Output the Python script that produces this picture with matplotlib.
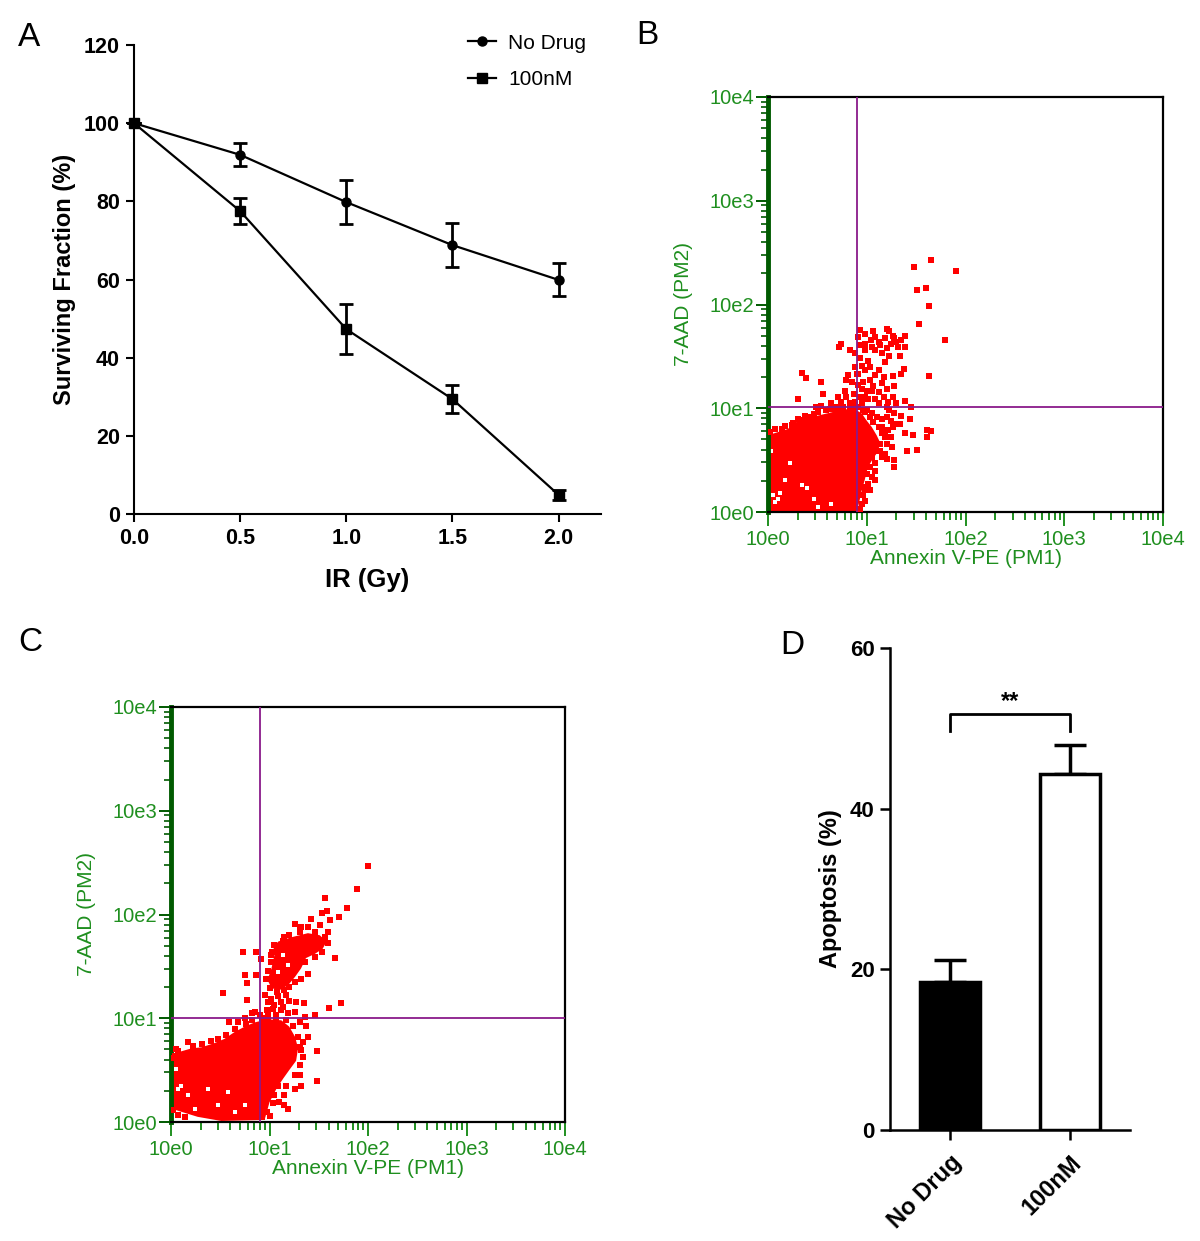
import matplotlib
matplotlib.use("Agg")
import matplotlib.pyplot as plt

plt.rcParams['font.family'] = ['Liberation Sans', 'DejaVu Sans']

# ---- panel A : clonogenic survival ----
dose = [0.0, 0.5, 1.0, 1.5, 2.0]
no_drug = [100, 91.9, 79.8, 68.8, 59.9]
no_drug_err = [0, 2.9, 5.7, 5.7, 4.2]
nm100 = [100, 77.5, 47.3, 29.4, 4.9]
nm100_err = [0, 3.4, 6.4, 3.5, 1.3]

# ---- panel D : apoptosis ----
groups = ["No Drug", "100nM"]
apoptosis = [18.4, 44.3]
apoptosis_err = [2.7, 3.6]

# ---- panels B / C : flow cytometry, values in log10 units (decades) ----
# solid dense cores outlined from the picture, single events, and blank gaps inside the cores
b_core = [(0.00, 0.74), (0.10, 0.77), (0.20, 0.80), (0.29, 0.87), (0.39, 0.90),
          (0.51, 0.93), (0.64, 0.96), (0.76, 0.99), (0.88, 0.99), (0.95, 0.95),
          (1.00, 0.88), (1.05, 0.82), (1.10, 0.74), (1.13, 0.68), (1.12, 0.59),
          (1.06, 0.51), (1.01, 0.43), (0.98, 0.31), (0.95, 0.21), (0.92, 0.08),
          (0.90, 0.00), (0.00, 0.00)]
b_gaps = [(0.05, 0.16), (0.10, 0.13), (0.07, 0.10), (0.12, 0.18), (0.34, 0.26),
          (0.39, 0.23), (0.17, 0.31), (0.47, 0.13), (0.64, 0.08), (0.22, 0.47),
          (0.03, 0.59), (0.51, 0.05)]
b_dots = [(1.65, 2.43), (1.48, 2.36), (1.90, 2.32), (1.51, 2.14), (1.60, 2.16),
          (1.63, 1.99), (1.53, 1.81), (1.79, 1.66), (1.63, 1.31),
          (0.93, 1.75), (1.06, 1.74), (1.21, 1.76), (1.23, 1.74), (1.27, 1.70),
          (1.39, 1.70), (1.35, 1.66), (1.25, 1.62), (1.30, 1.64), (1.04, 1.66),
          (1.12, 1.64), (1.13, 1.61), (0.74, 1.62), (0.72, 1.59), (0.83, 1.56),
          (0.88, 1.53), (0.93, 1.61), (0.98, 1.56), (1.08, 1.56), (1.15, 1.53),
          (1.23, 1.50), (1.34, 1.50), (0.93, 1.48), (1.01, 1.46), (1.18, 1.45),
          (0.88, 1.40), (0.95, 1.41), (1.03, 1.40), (1.12, 1.37), (0.98, 1.37),
          (0.81, 1.32), (0.90, 1.33), (1.08, 1.32), (1.17, 1.30), (1.27, 1.31),
          (1.35, 1.33), (1.38, 1.38), (0.34, 1.34), (0.38, 1.29), (0.54, 1.25),
          (0.79, 1.27), (0.96, 1.25), (1.03, 1.27), (1.06, 1.21), (1.15, 1.24),
          (0.95, 1.19), (1.00, 1.17), (0.78, 1.17), (0.56, 1.14), (0.30, 1.09),
          (0.87, 1.14), (0.93, 1.11), (1.01, 1.09), (1.08, 1.09), (1.17, 1.11),
          (1.27, 1.11), (1.39, 1.07), (0.74, 1.06), (0.64, 1.05), (0.49, 1.01),
          (0.54, 1.02), (0.68, 1.01), (0.83, 1.05), (0.95, 1.05), (1.12, 1.05),
          (1.20, 1.01), (1.45, 1.01),
          (0.91, 1.69), (0.98, 1.72), (1.08, 1.69), (1.18, 1.68), (1.28, 1.68),
          (1.32, 1.59), (1.39, 1.59), (0.98, 1.62), (1.05, 1.59), (1.20, 1.58),
          (0.91, 1.33), (0.85, 1.25), (0.91, 1.22), (1.05, 1.17), (1.12, 1.16),
          (1.20, 1.19), (1.28, 1.21), (0.98, 1.11), (1.22, 1.06), (1.30, 1.05),
          (0.88, 1.06), (0.79, 1.11), (0.71, 1.11),
          (1.23, 0.98), (1.28, 0.95), (1.35, 0.93), (1.44, 0.90), (1.30, 0.85),
          (1.34, 0.85), (1.39, 0.76), (1.47, 0.74), (1.61, 0.79), (1.65, 0.78),
          (1.61, 0.72), (1.26, 0.63), (1.41, 0.59), (1.51, 0.60), (1.21, 0.51),
          (1.28, 0.50), (1.28, 0.43), (1.08, 0.40), (1.08, 0.31), (0.95, 0.24),
          (0.96, 0.16),
          (0.98, 0.96), (1.05, 0.95), (1.10, 0.92), (1.15, 0.90), (1.20, 0.92),
          (1.25, 0.88), (0.98, 0.82), (1.15, 0.82), (1.22, 0.79), (1.27, 0.82),
          (1.18, 0.74), (1.25, 0.72), (1.13, 0.59), (1.18, 0.56), (1.15, 0.53),
          (1.08, 0.47), (1.05, 0.34), (1.03, 0.21), (0.98, 0.11),
          (0.02, 0.77), (0.07, 0.80), (0.14, 0.80), (0.17, 0.83), (0.24, 0.84),
          (0.25, 0.86), (0.30, 0.90), (0.34, 0.89), (0.37, 0.93), (0.44, 0.92),
          (0.47, 0.94), (0.51, 0.96), (0.59, 0.98), (0.63, 0.99), (0.69, 0.99),
          (0.73, 1.00), (0.76, 1.01), (0.83, 1.01), (0.85, 1.00), (0.91, 1.01),
          (0.96, 0.98), (1.00, 0.98), (1.03, 0.92), (1.06, 0.87), (1.12, 0.82),
          (1.15, 0.76), (1.18, 0.72), (1.13, 0.66), (1.20, 0.66), (1.12, 0.59),
          (1.05, 0.53), (1.03, 0.43), (1.00, 0.37), (1.01, 0.27), (0.98, 0.21),
          (0.95, 0.08), (0.93, 0.03)]
b_gate = (0.90, 1.01)

c_core_low = [(0.00, 0.59), (0.10, 0.68), (0.21, 0.71), (0.31, 0.72), (0.44, 0.76),
              (0.54, 0.80), (0.65, 0.87), (0.75, 0.92), (0.85, 0.96), (0.98, 0.99),
              (1.12, 0.98), (1.20, 0.92), (1.26, 0.82), (1.29, 0.71), (1.27, 0.59),
              (1.20, 0.50), (1.14, 0.42), (1.07, 0.32), (1.00, 0.19), (0.95, 0.02),
              (0.51, 0.01), (0.27, 0.05), (0.10, 0.10), (0.00, 0.13)]
c_core_high = [(1.09, 1.74), (1.22, 1.78), (1.39, 1.82), (1.51, 1.80), (1.58, 1.74),
               (1.54, 1.67), (1.46, 1.62), (1.37, 1.58), (1.32, 1.48), (1.26, 1.40),
               (1.19, 1.32), (1.10, 1.27), (1.02, 1.29), (0.98, 1.37), (1.02, 1.48),
               (1.05, 1.61), (1.04, 1.69)]
c_gaps = [(0.07, 0.32), (0.10, 0.35), (0.17, 0.26), (0.58, 0.29), (0.48, 0.16),
          (0.24, 0.13), (0.38, 0.32), (0.65, 0.10), (0.75, 0.16), (0.05, 0.51),
          (1.14, 1.61), (1.19, 1.51), (1.09, 1.45)]
c_dots = [(2.00, 2.47), (1.89, 2.25), (1.56, 2.16), (1.79, 2.06), (1.71, 1.98),
          (1.58, 2.03), (1.53, 2.01), (1.61, 1.95), (1.42, 1.96), (1.26, 1.91),
          (1.32, 1.88), (1.67, 1.58), (1.73, 1.15), (1.60, 1.10), (1.48, 0.68),
          (1.48, 0.40),
          (1.15, 1.78), (1.31, 1.83), (1.46, 1.83), (1.56, 1.78), (1.59, 1.73),
          (1.53, 1.64), (1.46, 1.59), (1.36, 1.54), (1.39, 1.43), (1.32, 1.38),
          (1.26, 1.35), (1.20, 1.30), (1.15, 1.27), (1.08, 1.25), (1.00, 1.29),
          (0.96, 1.38), (0.98, 1.46), (1.02, 1.54), (1.03, 1.64), (1.05, 1.71),
          (0.73, 1.64), (0.86, 1.64), (0.91, 1.57), (0.75, 1.42), (0.86, 1.42),
          (0.77, 1.34), (0.53, 1.24), (0.77, 1.18), (1.02, 1.19), (1.12, 1.16),
          (1.20, 1.17), (1.27, 1.16), (1.35, 1.15), (1.04, 1.09), (0.97, 1.08),
          (0.85, 1.06), (0.82, 1.05), (0.75, 1.00), (0.90, 1.03), (0.59, 0.96),
          (0.68, 0.96), (1.05, 1.13), (1.12, 1.08), (1.19, 1.05), (1.36, 1.01),
          (1.46, 1.03),
          (0.95, 1.22), (0.98, 1.16), (1.09, 1.21), (1.17, 1.22), (1.14, 1.11),
          (0.98, 1.05), (1.07, 1.03), (1.26, 1.06), (1.31, 0.96), (1.37, 0.93),
          (1.39, 0.82), (1.34, 0.77), (1.32, 0.69), (1.31, 0.45), (1.15, 0.26),
          (1.10, 0.19), (0.92, 0.05), (1.46, 1.77), (1.59, 1.83), (1.51, 1.90),
          (1.39, 1.88), (1.31, 1.85), (1.20, 1.80), (1.14, 1.74), (1.02, 1.61),
          (0.17, 0.77), (0.22, 0.73), (0.31, 0.75), (0.41, 0.78), (0.48, 0.80),
          (0.56, 0.84), (0.65, 0.90), (0.76, 0.94), (0.82, 0.98), (0.92, 1.00),
          (0.98, 1.01), (1.07, 1.00), (1.17, 0.98), (1.24, 0.93), (1.29, 0.82),
          (1.31, 0.72), (1.34, 0.63), (1.31, 0.55), (1.26, 0.45), (1.32, 0.35),
          (1.17, 0.35), (1.26, 0.32), (1.15, 0.16), (1.19, 0.13), (0.97, 0.10),
          (1.00, 0.06), (0.04, 0.64), (0.07, 0.68), (0.01, 0.62), (0.05, 0.70),
          (0.02, 0.12), (0.07, 0.07), (0.14, 0.05), (1.09, 0.35), (1.05, 0.26),
          (1.04, 0.18)]
c_gate = (0.90, 1.006)

flow_ticks = [1, 10, 100, 1000, 10000]
flow_ticklabels = ["10e0", "10e1", "10e2", "10e3", "10e4"]

GREEN = '#1f8f1f'
DARKGREEN = '#005a00'
PURPLE = '#8a1a8a'

W, H = 1200, 1241
fig = plt.figure(figsize=(W / 100, H / 100), dpi=100)


def rect(l, t, r, b):
    return [l / W, 1 - b / H, (r - l) / W, (b - t) / H]


## courbe de survie
axA = fig.add_axes(rect(134, 45, 601, 514))
axA.plot(dose, no_drug, color='black', lw=1.6, marker='o', ms=6.5, label='No Drug', clip_on=False, zorder=3)
axA.plot(dose, nm100, color='black', lw=1.6, marker='s', ms=6.5, label='100nM', clip_on=False, zorder=3)
axA.errorbar(dose, no_drug, yerr=no_drug_err, fmt='none', ecolor='black', elinewidth=2, capsize=5, capthick=2, clip_on=False)
axA.errorbar(dose, nm100, yerr=nm100_err, fmt='none', ecolor='black', elinewidth=2, capsize=5, capthick=2, clip_on=False)
axA.set_xlim(0, 2.2)
axA.set_ylim(0, 120)
axA.set_xticks(dose)
axA.set_xticklabels(["0.0", "0.5", "1.0", "1.5", "2.0"])
axA.set_yticks([0, 20, 40, 60, 80, 100, 120])
for s in ['top', 'right']:
    axA.spines[s].set_visible(False)
for s in ['left', 'bottom']:
    axA.spines[s].set_linewidth(1.5)
axA.tick_params(direction='out', length=6, width=1.5, labelsize=15.5, pad=4)
for lab in axA.get_xticklabels() + axA.get_yticklabels():
    lab.set_fontweight('bold')
axA.set_xlabel("IR (Gy)", fontsize=18.5, fontweight='bold', labelpad=14)
axA.set_ylabel("Surviving Fraction (%)", fontsize=17, fontweight='bold', labelpad=6)
axA.legend(loc='upper left', bbox_to_anchor=(449 / W, 1 - 15 / H), bbox_transform=fig.transFigure,
           frameon=False, fontsize=15, handlelength=1.35, labelspacing=0.85, handletextpad=0.6)


## nuage de points cytometrie
def flowPanel(ax, cores, dots, gaps, gate):
    ax.set_xscale('log')
    ax.set_yscale('log')
    ax.set_xlim(1, 1e4)
    ax.set_ylim(1, 1e4)
    for core in cores:
        ax.fill([10 ** p[0] for p in core], [10 ** p[1] for p in core], color='red', lw=0, zorder=2)
    ax.scatter([10 ** p[0] for p in gaps], [10 ** p[1] for p in gaps], marker='s', s=11,
               color='white', linewidths=0, zorder=2.5)
    ax.scatter([10 ** p[0] for p in dots], [10 ** p[1] for p in dots], marker='s', s=13,
               color='red', linewidths=0, zorder=2.6)
    ax.axvline(10 ** gate[0], color=PURPLE, lw=1.3, zorder=3)
    ax.axhline(10 ** gate[1], color=PURPLE, lw=1.3, zorder=3)
    ax.set_xticks(flow_ticks)
    ax.set_xticklabels(flow_ticklabels)
    ax.set_yticks(flow_ticks)
    ax.set_yticklabels(flow_ticklabels)
    for s in ['top', 'right', 'bottom']:
        ax.spines[s].set_linewidth(1.6)
        ax.spines[s].set_color('black')
    ax.spines['left'].set_linewidth(3.5)
    ax.spines['left'].set_color(DARKGREEN)
    ax.tick_params(axis='x', which='major', length=10, width=1.4, color=GREEN, labelcolor=GREEN, labelsize=14.5, pad=3)
    ax.tick_params(axis='x', which='minor', length=6, width=1.4, color=GREEN)
    ax.tick_params(axis='y', which='major', length=9, width=1.4, color=DARKGREEN, labelcolor=GREEN, labelsize=14.5, pad=1)
    ax.tick_params(axis='y', which='minor', length=5, width=1.2, color=DARKGREEN)
    ax.set_xlabel("Annexin V-PE (PM1)", fontsize=15, color=GREEN, labelpad=0)
    ax.set_ylabel("7-AAD (PM2)", fontsize=15, color=GREEN, labelpad=12)


axB = fig.add_axes(rect(768, 97, 1163, 512))
flowPanel(axB, [b_core], b_dots, b_gaps, b_gate)
axC = fig.add_axes(rect(171, 707, 565, 1122))
flowPanel(axC, [c_core_low, c_core_high], c_dots, c_gaps, c_gate)

## histogramme apoptose
axD = fig.add_axes(rect(890, 648, 1130, 1130))
xpos = [0, 1]
axD.bar(xpos, apoptosis, width=0.5, color=['black', 'white'], edgecolor='black', linewidth=2.5, zorder=2)
axD.errorbar(xpos, apoptosis, yerr=[[0, 0], apoptosis_err], fmt='none', ecolor='black',
             elinewidth=2.5, capsize=11.5, capthick=2.5, zorder=1)
axD.plot([0, 0, 1, 1], [49.7, 51.8, 51.8, 49.7], color='black', lw=2)
axD.text(0.5, 51.9, "**", ha='center', va='bottom', fontsize=17, fontweight='bold')
axD.set_xlim(-0.5, 1.5)
axD.set_ylim(0, 60)
axD.set_yticks([0, 20, 40, 60])
axD.set_xticks(xpos)
axD.set_xticklabels(groups, rotation=45, ha='right', rotation_mode='anchor')
for s in ['top', 'right']:
    axD.spines[s].set_visible(False)
for s in ['left', 'bottom']:
    axD.spines[s].set_linewidth(1.8)
axD.tick_params(direction='out', length=7, width=1.8, labelsize=16, pad=4)
axD.tick_params(axis='x', labelsize=17, pad=8)
for lab in axD.get_xticklabels() + axD.get_yticklabels():
    lab.set_fontweight('bold')
axD.set_ylabel("Apoptosis (%)", fontsize=17, fontweight='bold', labelpad=6)

for letter, px, py in [("A", 18, 22), ("B", 636, 20), ("C", 18, 627), ("D", 780, 630)]:
    fig.text(px / W, 1 - py / H, letter, fontsize=24, ha='left', va='top')

fig.savefig("out.png", dpi=100)
